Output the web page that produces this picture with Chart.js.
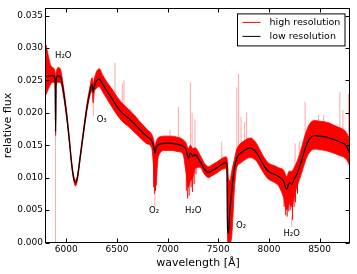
<!DOCTYPE html>
<html>
<head>
<meta charset="utf-8">
<script src="https://cdn.jsdelivr.net/npm/chart.js@4/dist/chart.umd.min.js"></script>
<style>
  body { margin: 0; background: #fff; }
  #wrap { width: 357px; height: 274px; }
</style>
</head>
<body>
<div id="wrap"><canvas id="spectrum" width="357" height="274"></canvas></div>
<script>
// wavelength grid (Angstrom) shared by the low resolution curve and the high resolution band
const wavelength = [5800, 5850, 5880, 5890, 5895, 5900, 5920, 5945, 5970, 6004, 6030, 6054, 6075, 6092, 6110, 6136, 6170, 6202, 6230, 6255, 6265, 6275, 6300, 6326, 6360, 6399, 6450, 6500, 6550, 6612, 6680, 6745, 6800, 6843, 6860, 6876, 6890, 6909, 6975, 7040, 7106, 7150, 7180, 7205, 7225, 7250, 7271, 7320, 7360, 7402, 7440, 7485, 7530, 7567, 7585, 7592, 7600, 7615, 7633, 7660, 7683, 7715, 7748, 7814, 7850, 7880, 7910, 7945, 7980, 8011, 8061, 8100, 8143, 8176, 8200, 8225, 8250, 8275, 8310, 8340, 8370, 8406, 8455, 8500, 8554, 8600, 8653, 8700, 8752, 8780, 8800];
const lowFlux = [0.0256, 0.0257, 0.0257, 0.0250, 0.0171, 0.0250, 0.0257, 0.0255, 0.0235, 0.0196, 0.0158, 0.0120, 0.0098, 0.0092, 0.0100, 0.0130, 0.0170, 0.0206, 0.0230, 0.0244, 0.0232, 0.0240, 0.0250, 0.0252, 0.0244, 0.0234, 0.0222, 0.0210, 0.0200, 0.0192, 0.0182, 0.0171, 0.0163, 0.0157, 0.0150, 0.0138, 0.0147, 0.0151, 0.0153, 0.0153, 0.0151, 0.0149, 0.0144, 0.0130, 0.0138, 0.0133, 0.0135, 0.0125, 0.0114, 0.0108, 0.0111, 0.0115, 0.0120, 0.0123, 0.0122, 0.0020, 0.0014, 0.0050, 0.0080, 0.0115, 0.0130, 0.0137, 0.0141, 0.0146, 0.0143, 0.0138, 0.0130, 0.0120, 0.0112, 0.0108, 0.0105, 0.0101, 0.0095, 0.0082, 0.0092, 0.0090, 0.0098, 0.0105, 0.0120, 0.0136, 0.0150, 0.0161, 0.0165, 0.0164, 0.0163, 0.0161, 0.0158, 0.0155, 0.0151, 0.0144, 0.0136];
const highUpper = [0.0305, 0.0272, 0.0268, 0.0262, 0.0255, 0.0262, 0.0270, 0.0266, 0.0243, 0.0202, 0.0163, 0.0124, 0.0102, 0.0096, 0.0104, 0.0134, 0.0175, 0.0212, 0.0237, 0.0254, 0.0245, 0.0252, 0.0264, 0.0268, 0.0258, 0.0248, 0.0237, 0.0225, 0.0215, 0.0206, 0.0195, 0.0183, 0.0174, 0.0167, 0.0160, 0.0150, 0.0157, 0.0162, 0.0164, 0.0164, 0.0162, 0.0159, 0.0154, 0.0145, 0.0150, 0.0145, 0.0146, 0.0135, 0.0123, 0.0117, 0.0120, 0.0124, 0.0129, 0.0132, 0.0131, 0.0122, 0.0100, 0.0095, 0.0110, 0.0129, 0.0144, 0.0152, 0.0156, 0.0161, 0.0158, 0.0152, 0.0143, 0.0133, 0.0125, 0.0121, 0.0118, 0.0115, 0.0112, 0.0102, 0.0110, 0.0110, 0.0116, 0.0124, 0.0140, 0.0157, 0.0172, 0.0184, 0.0188, 0.0187, 0.0186, 0.0184, 0.0180, 0.0177, 0.0172, 0.0165, 0.0157];
const highLower = [0.0228, 0.0245, 0.0247, 0.0240, 0.0165, 0.0240, 0.0247, 0.0246, 0.0228, 0.0191, 0.0154, 0.0116, 0.0094, 0.0087, 0.0096, 0.0126, 0.0166, 0.0201, 0.0224, 0.0234, 0.0215, 0.0230, 0.0238, 0.0240, 0.0232, 0.0222, 0.0209, 0.0197, 0.0187, 0.0179, 0.0169, 0.0159, 0.0152, 0.0146, 0.0120, 0.0080, 0.0100, 0.0133, 0.0142, 0.0142, 0.0140, 0.0137, 0.0110, 0.0085, 0.0095, 0.0100, 0.0114, 0.0116, 0.0106, 0.0100, 0.0103, 0.0107, 0.0112, 0.0114, 0.0110, 0.0003, 0.0000, 0.0000, 0.0010, 0.0084, 0.0116, 0.0122, 0.0126, 0.0131, 0.0129, 0.0125, 0.0117, 0.0108, 0.0100, 0.0096, 0.0092, 0.0086, 0.0070, 0.0050, 0.0060, 0.0055, 0.0070, 0.0085, 0.0101, 0.0116, 0.0130, 0.0140, 0.0144, 0.0143, 0.0142, 0.0140, 0.0137, 0.0134, 0.0130, 0.0124, 0.0116];

// narrow telluric absorption lines in the high resolution spectrum
const lineX = [6862, 6872, 6880, 6888, 7185, 7198, 7212, 7232, 7245, 7262, 7280, 8150, 8165, 8180, 8195, 8210, 8232, 8248, 8262, 8282];
const lineTop = [0.0150, 0.0145, 0.0145, 0.0148, 0.0145, 0.0140, 0.0140, 0.0140, 0.0138, 0.0138, 0.0135, 0.0095, 0.0090, 0.0085, 0.0090, 0.0092, 0.0092, 0.0098, 0.0102, 0.0108];
const lineBottom = [0.0085, 0.0075, 0.0080, 0.0088, 0.0080, 0.0068, 0.0072, 0.0085, 0.0078, 0.0090, 0.0105, 0.0055, 0.0042, 0.0040, 0.0048, 0.0050, 0.0035, 0.0055, 0.0062, 0.0075];

// faint spikes (cosmics / residuals)
const spikeX = [5893, 6267, 6481, 6553, 6570, 6630, 6680, 6874, 7024, 7106, 7225, 7242, 7270, 7534, 7683, 7700, 7725, 7760, 7780, 7830, 8225, 8258, 8300, 8357, 8490, 8540, 8700, 8730, 8785];
const spikeLow = [0.0000, 0.0195, 0.0215, 0.0205, 0.0200, 0.0195, 0.0185, 0.0055, 0.0160, 0.0160, 0.0148, 0.0148, 0.0145, 0.0128, 0.0140, 0.0145, 0.0150, 0.0150, 0.0150, 0.0155, 0.0024, 0.0115, 0.0125, 0.0150, 0.0180, 0.0180, 0.0172, 0.0170, 0.0160];
const spikeHigh = [0.0240, 0.0245, 0.0277, 0.0245, 0.0250, 0.0206, 0.0196, 0.0080, 0.0174, 0.0209, 0.0247, 0.0200, 0.0190, 0.0156, 0.0239, 0.0260, 0.0194, 0.0186, 0.0201, 0.0163, 0.0040, 0.0153, 0.0156, 0.0217, 0.0197, 0.0197, 0.0232, 0.0204, 0.0229];

const xTicks = [6000, 6500, 7000, 7500, 8000, 8500];
const yTicks = [0, 0.005, 0.010, 0.015, 0.020, 0.025, 0.030, 0.035];

const noteX = [5889, 6300, 6817, 7172, 7676, 8143];
const noteY = [0.0288, 0.0189, 0.0049, 0.0049, 0.0025, 0.0014];
const noteText = ['H₂O', 'O₃', 'O₂', 'H₂O', 'O₂', 'H₂O'];

const seriesNames = ['high resolution', 'low resolution'];
const seriesColors = ['#ff0000', '#000000'];

function pairs(xs, ys) {
  return xs.map((v, i) => ({ x: v, y: ys[i] }));
}
function segments(xs, lo, hi) {
  const out = [];
  xs.forEach((v, i) => {
    out.push({ x: v, y: lo[i] }, { x: v, y: hi[i] }, { x: v, y: null });
  });
  return out;
}

const frame = {
  id: 'frame',
  afterDraw(chart) {
    const { ctx, chartArea: a, scales: { x, y } } = chart;
    ctx.save();
    ctx.strokeStyle = '#000';
    ctx.lineWidth = 1;
    const L = Math.round(a.left) - 0.5, R = Math.round(a.right) - 0.5;
    const T = Math.round(a.top) + 0.5, B = Math.round(a.bottom) - 0.5;
    ctx.strokeRect(L, T, R - L, B - T);
    ctx.beginPath();
    xTicks.forEach(v => {
      const px = Math.round(x.getPixelForValue(v)) + 0.5;
      ctx.moveTo(px, B); ctx.lineTo(px, B - 4);
      ctx.moveTo(px, T); ctx.lineTo(px, T + 4);
    });
    yTicks.forEach(v => {
      const py = Math.round(y.getPixelForValue(v)) + 0.5;
      ctx.moveTo(L, py); ctx.lineTo(L + 4, py);
      ctx.moveTo(R, py); ctx.lineTo(R - 4, py);
    });
    ctx.stroke();

    // molecule labels
    ctx.fillStyle = '#000';
    ctx.font = '8.5px "DejaVu Sans"';
    ctx.textBaseline = 'middle';
    ctx.textAlign = 'left';
    noteText.forEach((t, i) => {
      ctx.fillText(t, x.getPixelForValue(noteX[i]), y.getPixelForValue(noteY[i]));
    });

    // legend box
    const bx = a.right - 112.5, by = a.top + 5.5, bw = 107.5, bh = 32;
    ctx.fillStyle = '#fff';
    ctx.fillRect(bx, by, bw, bh);
    ctx.strokeRect(bx, by, bw, bh);
    ctx.font = '9.5px "DejaVu Sans"';
    seriesNames.forEach((name, i) => {
      const ly = by + 8.5 + i * 14;
      ctx.strokeStyle = seriesColors[i];
      ctx.beginPath();
      ctx.moveTo(bx + 5, ly); ctx.lineTo(bx + 23, ly);
      ctx.stroke();
      ctx.fillStyle = '#000';
      ctx.fillText(name, bx + 32, ly);
    });
    ctx.restore();
  }
};

Chart.defaults.font.family = '"DejaVu Sans"';
Chart.defaults.color = '#000';

new Chart(document.getElementById('spectrum'), {
  type: 'line',
  data: {
    datasets: [
      { label: 'upper', data: pairs(wavelength, highUpper), borderColor: '#ff0000', borderWidth: 0.8,
        pointRadius: 0, fill: false, cubicInterpolationMode: 'monotone', order: 4 },
      { label: 'lower', data: pairs(wavelength, highLower), borderColor: '#ff0000', borderWidth: 0.8,
        backgroundColor: '#ff0000', pointRadius: 0, fill: '-1', cubicInterpolationMode: 'monotone', order: 4 },
      { label: 'lines', data: segments(lineX, lineBottom, lineTop), borderColor: '#ff0000', borderWidth: 1,
        pointRadius: 0, spanGaps: false, order: 3 },
      { label: 'spikes', data: segments(spikeX, spikeLow, spikeHigh), borderColor: 'rgba(255,0,0,0.35)', borderWidth: 1,
        pointRadius: 0, spanGaps: false, order: 2 },
      { label: 'low', data: pairs(wavelength, lowFlux), borderColor: '#000', borderWidth: 1.2,
        pointRadius: 0, cubicInterpolationMode: 'monotone', order: 0 }
    ]
  },
  options: {
    responsive: false,
    animation: false,
    layout: { padding: { top: 5, right: 7, left: 0, bottom: 0 } },
    plugins: { legend: { display: false }, tooltip: { enabled: false } },
    scales: {
      x: {
        type: 'linear', min: 5800, max: 8800,
        grid: { display: false, drawTicks: false }, border: { display: false },
        afterBuildTicks: s => { s.ticks = xTicks.map(v => ({ value: v })); },
        afterFit: s => { s.height = 31.5; },
        ticks: { font: { size: 9 }, padding: 2, maxRotation: 0, callback: v => String(v) },
        title: { display: true, text: 'wavelength [Å]', font: { size: 11 }, padding: { top: 0, bottom: 4 } }
      },
      y: {
        type: 'linear', min: 0, max: 0.0361,
        grid: { display: false, drawTicks: false }, border: { display: false },
        afterBuildTicks: s => { s.ticks = yTicks.map(v => ({ value: v })); },
        afterFit: s => { s.width = 46; },
        ticks: { font: { size: 9 }, padding: 3, callback: v => v.toFixed(3) },
        title: { display: true, text: 'relative flux', font: { size: 11 }, padding: { top: 2, bottom: 0 } }
      }
    }
  },
  plugins: [frame]
});
</script>
</body>
</html>
